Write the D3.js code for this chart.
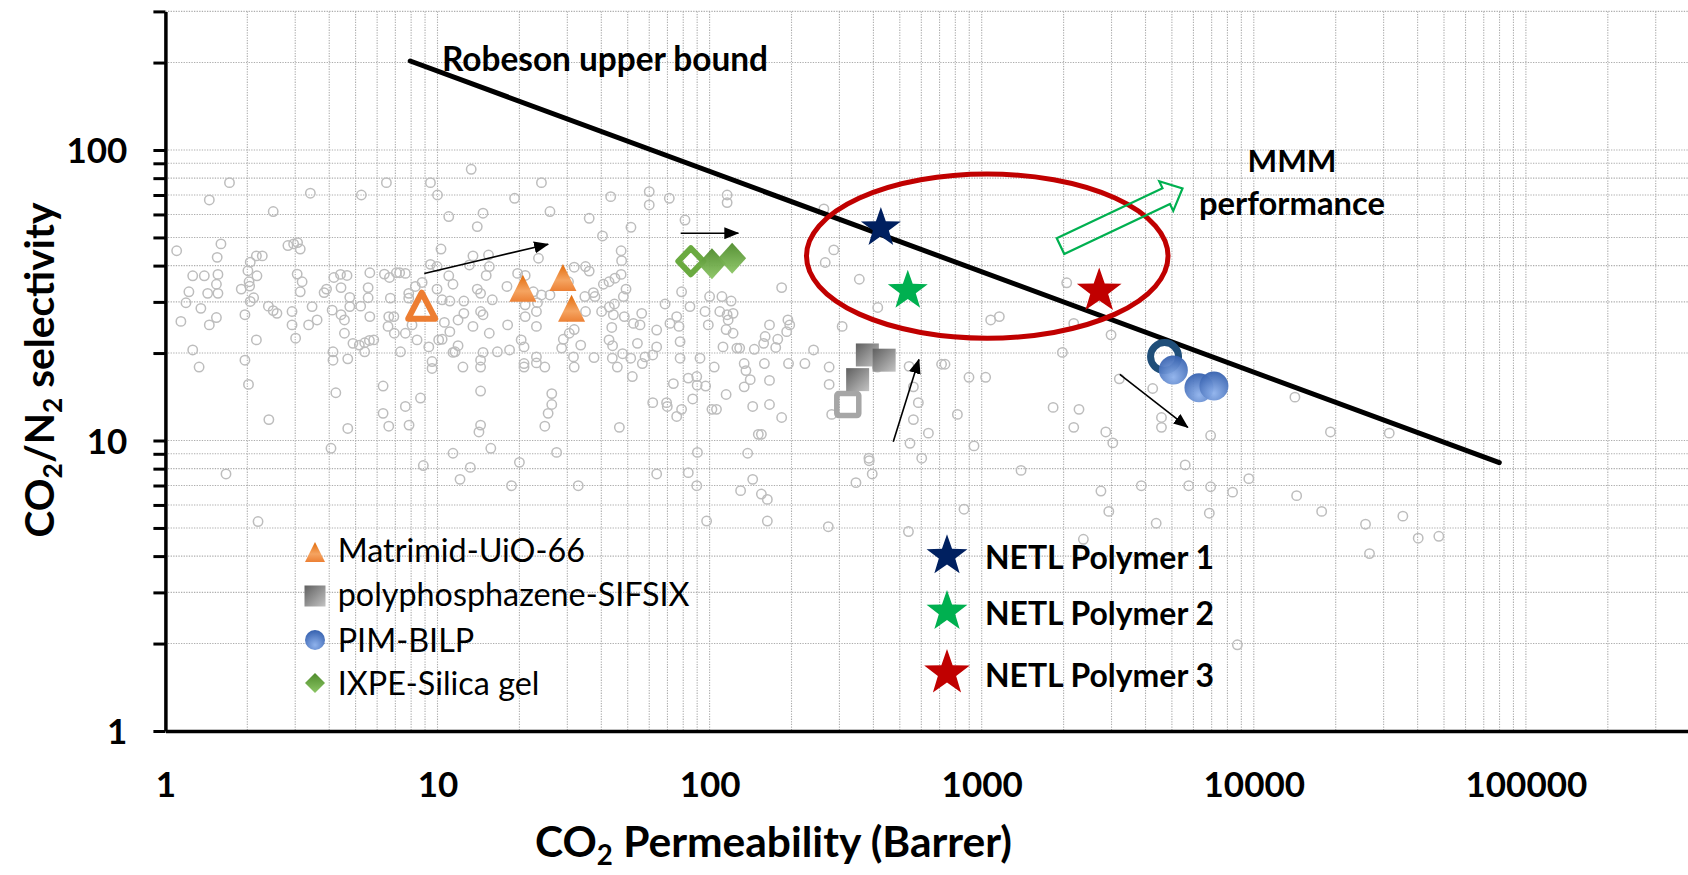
<!DOCTYPE html>
<html><head><meta charset="utf-8">
<script src="https://cdn.jsdelivr.net/npm/d3@7"></script>
<style>
html,body{margin:0;padding:0;background:#fff;}
svg{display:block;font-family:Lato,"Open Sans",sans-serif;}
</style></head><body>
<svg id="chart" width="1688" height="875"></svg>
<script>
// ---------------- data ----------------
const xTicks = [1, 10, 100, 1000, 10000, 100000];
const xTickLabels = ["1", "10", "100", "1000", "10000", "100000"];
const yTicks = [1, 10, 100];
const yTickLabels = ["1", "10", "100"];

// literature polymers (CO2 permeability [Barrer], CO2/N2 selectivity)
const literature = [
[1.72,77.2],[1.45,67.3],[2.49,61.4],[3.41,71.0],[5.25,70.0],[6.49,77.2],[9.42,77.2],[10.0,70.0],[11.0,59.0],
[1.10,45.0],[1.60,47.5],[1.55,42.7],[2.82,46.9],[2.96,47.5],[3.06,48.0],[3.13,45.6],[2.05,41.1],[2.16,43.2],[2.27,43.2],
[10.3,45.6],[9.42,40.4],[9.96,39.7],
[1.26,36.9],[1.39,36.9],[1.56,37.3],[1.54,34.5],[1.56,32.1],[1.43,32.1],[1.22,32.5],[1.19,29.8],[1.35,28.5],[1.14,25.7],[1.45,25.0],[1.54,26.5],
[2.01,38.4],[2.17,36.9],[2.03,35.2],[1.90,33.2],[2.04,34.0],[2.11,31.0],[2.05,30.1],[1.96,27.1],[2.39,29.0],[2.49,28.0],[2.57,27.4],[2.92,27.8],[2.92,25.0],[3.01,22.5],[2.16,22.2],
[3.05,37.4],[3.18,35.2],[3.13,32.5],[3.46,28.9],[3.61,26.0],[3.36,25.0],
[3.83,32.3],[3.91,33.2],[4.16,36.4],[4.40,37.3],[4.65,37.0],[4.42,33.6],[4.76,31.1],[4.76,28.9],[5.22,29.0],[5.56,33.6],[5.56,31.0],[5.64,37.8],[5.64,26.7],[4.10,28.1],[4.42,27.1],[4.55,26.0],[4.55,23.4],[4.89,21.6],[5.16,21.3],[5.40,21.7],[5.40,20.2],[5.62,22.1],[5.83,22.2],
[6.38,37.4],[6.66,36.4],[7.06,37.8],[7.26,37.8],[7.62,37.6],[6.71,30.9],[7.84,32.1],[8.29,33.9],[8.78,35.0],[7.84,30.9],[6.62,26.7],[6.91,26.7],[6.58,24.7],[6.94,23.4],[7.62,23.4],[8.06,25.0],[8.41,22.2],[9.29,21.0],[7.31,20.2],[10.1,22.2],[10.4,22.3],[9.96,33.2],[10.4,30.5],[11.1,30.2],[11.0,36.9],[11.4,34.5],[10.6,25.5],[11.1,23.7],[11.9,26.0],[12.5,30.2],[12.5,27.4],
[4.13,20.2],[4.13,18.9],[4.68,19.1],[11.4,20.1],[11.6,20.2],[11.9,21.2],[12.4,17.9],
[1.26,20.5],[1.33,17.9],[1.96,18.9],[2.02,15.6],[2.40,11.8],[4.23,14.6],[4.06,9.40],[4.68,11.0],[6.31,15.4],[6.31,12.4],[6.62,11.2],[7.62,13.1],[7.86,11.3],[8.66,14.0],[9.55,18.7],[9.55,17.7],[11.4,9.04],
[13.3,85.8],[24.1,77.2],[19.2,68.2],[14.7,60.6],[14.0,54.5],[25.9,61.4],[43.3,69.1],[60.0,71.9],[60.0,64.7],[71.1,68.2],[36.1,58.2],[51.4,54.2],[40.4,50.6],[81.2,57.4],[116,70.0],[116,65.9],
[13.5,43.2],[15.4,43.5],[15.5,39.7],[15.1,37.0],[13.1,40.2],[23.5,42.4],[21.0,37.0],[19.7,37.6],[31.8,39.5],[35.0,39.7],[36.1,38.3],[47.3,45.0],[47.5,41.6],[47.3,37.3],[44.9,36.2],[42.7,35.2],[40.7,34.5],
[14.0,33.2],[14.4,32.1],[18.0,33.9],[15.9,30.5],[14.7,27.1],[14.4,27.8],[13.5,24.7],[14.4,17.9],[14.4,18.9],[14.7,20.1],[16.6,20.2],[18.4,20.5],[15.5,23.4],[18.1,25.0],[20.3,22.2],[20.8,21.0],[20.8,18.4],[20.8,17.9],[23.1,19.4],[23.1,18.5],[24.8,17.9],[23.1,24.7],[23.1,27.8],[21.0,29.3],[21.0,26.7],[23.3,29.8],[24.1,31.7],[25.9,31.7],[22.5,32.5],[30.3,35.2],[34.8,31.3],[37.4,32.3],[37.9,31.3],[40.1,27.8],[35.0,27.8],[31.8,24.1],[30.5,23.4],[29.0,22.3],[28.6,20.8],[33.6,21.3],[31.6,19.4],[31.8,17.9],[37.6,19.3],
[43.7,24.5],[42.7,22.2],[44.0,21.2],[43.9,19.2],[45.8,17.9],[47.9,19.9],[51.3,19.2],[54.3,21.6],[55.5,25.0],[56.3,27.4],[52.5,25.3],[48.6,26.7],[44.7,29.5],[42.8,28.8],[44.3,27.1],[48.2,31.3],[49.3,33.2],[63.9,24.0],[63.9,21.0],[61.8,19.7],[56.6,18.4],[57.9,19.4],[52.0,16.6],
[68.6,29.5],[71.5,25.3],[75.7,26.7],[77.2,24.7],[78.9,32.5],[84.7,28.9],[77.9,21.9],[77.9,19.2],[73.6,15.7],[83.5,16.4],[89.7,16.6],[90.0,15.5],[96.7,15.4],[92.2,19.2],[96.2,27.8],[98.9,25.0],[100,31.3],[111,31.3],[109,27.8],[116,27.1],[120,30.2],[117,26.0],[122,27.4],[122,23.4],[115,24.1],[112,21.0],[126,20.8],[129,20.8],[146,20.6],[134,18.4],[136,17.4],[141,16.2],[134,15.3],[104,17.9],[115,14.4],[102,12.8],[106,12.8],[86.7,13.9],[78.9,12.8],[75.7,12.1],[69.5,13.5],[61.8,13.5],[69.9,13.1],[144,13.1],[151,10.5],[138,9.04],[90.2,9.1],[46.6,11.1],[24.8,11.2],[26.3,14.5],[26.3,13.3],[25.5,12.4],[14.4,14.8],[14.4,11.3],[14.2,10.7],[15.7,9.40],[27.4,9.1],
[263,62.7],[286,45.3],[266,41.0],[355,35.9],[184,33.6],[415,28.7],[307,24.7],[1079,26.0],[1161,26.7],[166,25.0],[194,26.0],[197,25.0],[192,23.7],[178,22.3],[175,20.9],[160,22.8],[158,21.6],[241,20.5],[159,18.4],[195,18.4],[224,18.4],[275,17.9],[166,16.1],[275,15.6],[166,13.3],[184,12.0],[155,10.5],[281,12.3],[414,17.9],[541,18.0],[561,15.3],[585,13.5],[561,11.8],[637,10.6],[545,9.78],[385,8.69],[602,8.69],[712,18.3],[733,18.3],[898,16.5],[1034,16.5],[814,12.3],[937,9.58],
[2053,34.9],[2179,25.3],[2988,23.1],[1979,20.1],[3205,16.3],[4250,15.1],[1830,13.0],[2278,12.8],[2179,11.1],[2858,10.7],[3032,9.81],[4578,12.0],[4578,11.1],[6940,10.4],[14160,14.1],[19130,10.7],[31460,10.6],[1395,7.89],[2743,6.70],[3860,6.99],[5596,8.24],[5764,6.99],[6940,6.93],[8356,6.64],[9588,7.39],[2932,5.70],[4378,5.19],[6863,5.62],[14370,6.46],[17760,5.70],[25740,5.15],[35300,5.49],[40200,4.61],[47860,4.68],[26620,4.08],[2364,4.57],[8702,1.98],
[1.67,7.67],[2.19,5.26],[8.87,8.20],[13.2,8.08],[12.1,7.35],[20.0,8.41],[18.7,6.99],[32.9,6.99],
[63.9,7.67],[83.5,7.75],[89.7,6.99],[144,7.35],[130,6.72],[155,6.54],[163,6.27],[97.5,5.28],[163,5.28],[273,5.05],[345,7.16],[386,8.52],[396,7.67],[538,4.86],[861,5.80]
];

// Robeson 2008 upper bound end points
const robesonP = [7.94, 79830];
const robesonS = [202.5, 8.39];

// MMM series: neat polymer (open marker) and MMMs (filled)
const matrimidNeat = [8.75, 29.1];
const matrimidUiO66 = [[20.6, 33.4], [28.9, 36.4], [31.1, 28.5]];
const sifsixNeat = [322, 13.3];
const sifsixMMM = [[350, 16.2], [380, 19.7], [438, 18.9]];
const pimNeat = [4699, 19.45];
const pimBilp = [[5062, 17.5], [6288, 15.2], [7136, 15.4]];
const ixpeNeat = [85.3, 41.4];
const ixpeSilica = [[102, 40.6], [121, 42.4]];

// NETL polymers
const netlNames = ["NETL Polymer 1", "NETL Polymer 2", "NETL Polymer 3"];
const netlP = [426, 535, 2703];
const netlS = [53.9, 32.8, 32.7];

const legendNames = ["Matrimid-UiO-66", "polyphosphazene-SIFSIX", "PIM-BILP", "IXPE-Silica gel"];

// annotation anchors (data space)
const ellipseP = [227, 4840];
const ellipseS = [22.5, 82.7];
const mmmArrowP = [1948, 5470];
const mmmArrowS = [46.7, 73.8];
const trendArrows = [
  [[8.94, 37.6], [25.5, 47.4]],
  [[78.3, 51.7], [127.5, 51.7]],
  [[473, 9.90], [588, 19.0]],
  [[3217, 16.9], [5720, 11.1]]
];

// ---------------- drawing ----------------
const W = 1688, H = 875;
const svg = d3.select("#chart");
svg.append("rect").attr("width", W).attr("height", H).attr("fill", "#fff");

const DEC_X = 272.1, DEC_Y = 290.5, X0 = 165.4, Y0 = 731;
const x = d3.scaleLog().domain([1, 400000]).range([X0, X0 + DEC_X * Math.log10(400000)]);
const y = d3.scaleLog().domain([1, 300]).range([Y0, Y0 - DEC_Y * Math.log10(300)]);

const defs = svg.append("defs");
function linGrad(id, x1, y1, x2, y2, stops) {
  const g = defs.append("linearGradient").attr("id", id)
    .attr("x1", x1).attr("y1", y1).attr("x2", x2).attr("y2", y2);
  stops.forEach(s => g.append("stop").attr("offset", s[0]).attr("stop-color", s[1]));
}
linGrad("gOrange", 0, 0, 0, 1, [[0, "#E26B0A"], [0.6, "#F5A461"], [1, "#EC8034"]]);
linGrad("gGrey", 0, 0, 1, 1, [[0, "#5F5F5F"], [1, "#C4C4C4"]]);
linGrad("gGreen", 0, 0, 0, 1, [[0, "#4E8B2B"], [1, "#8CC665"]]);
const rg = defs.append("radialGradient").attr("id", "gBlue").attr("cx", 0.5).attr("cy", 0.75).attr("r", 0.75);
rg.append("stop").attr("offset", 0).attr("stop-color", "#8FB2EC");
rg.append("stop").attr("offset", 1).attr("stop-color", "#3560AE");

defs.append("marker").attr("id", "ah").attr("markerUnits", "userSpaceOnUse")
  .attr("markerWidth", 15).attr("markerHeight", 12).attr("refX", 14).attr("refY", 6)
  .attr("orient", "auto")
  .append("path").attr("d", "M0,0L15,6L0,12Z").attr("fill", "#000");

// grid
const gridX = [], gridY = [];
[1, 10, 100, 1000, 10000, 100000].forEach(d => { for (let m = 1; m <= 9; m++) { const v = m * d; if (v > 1 && v <= 300000) gridX.push(v); } });
[1, 10, 100].forEach(d => { for (let m = 1; m <= 9; m++) { const v = m * d; if (v > 1 && v <= 300) gridY.push(v); } });
const grid = svg.append("g").attr("stroke", "#ADADAD").attr("stroke-width", 1.1).attr("stroke-dasharray", "1.3,1.3");
grid.selectAll(".gx").data(gridX).join("line")
  .attr("x1", d => x(d)).attr("x2", d => x(d)).attr("y1", y(300)).attr("y2", y(1));
grid.selectAll(".gy").data(gridY).join("line")
  .attr("x1", x(1)).attr("x2", W).attr("y1", d => y(d)).attr("y2", d => y(d));

// literature circles
svg.append("g").selectAll("circle").data(literature).join("circle")
  .attr("cx", d => x(d[0])).attr("cy", d => y(d[1])).attr("r", 4.7)
  .attr("fill", "none").attr("stroke", "#BDBDBD").attr("stroke-width", 1.5);

// Robeson line
svg.append("path").datum(robesonP.map((p, i) => [p, robesonS[i]]))
  .attr("d", d3.line().x(d => x(d[0])).y(d => y(d[1])))
  .attr("fill", "none").attr("stroke", "#000").attr("stroke-width", 5).attr("stroke-linecap", "round");

// marker shapes
const triPath = (cx, cy, w, h) => `M${cx},${cy - h / 2}L${cx + w / 2},${cy + h / 2}L${cx - w / 2},${cy + h / 2}Z`;
const diaPath = (cx, cy, w, h) => `M${cx},${cy - h / 2}L${cx + w / 2},${cy}L${cx},${cy + h / 2}L${cx - w / 2},${cy}Z`;
const starPath = (cx, cy, R) => {
  let p = "";
  for (let i = 0; i < 10; i++) {
    const a = -Math.PI / 2 + i * Math.PI / 5, r = i % 2 ? R * 0.4 : R;
    p += (i ? "L" : "M") + (cx + r * Math.cos(a)).toFixed(2) + "," + (cy + r * Math.sin(a)).toFixed(2);
  }
  return p + "Z";
};

const mk = svg.append("g");
// Matrimid
mk.append("path").attr("d", triPath(x(matrimidNeat[0]), y(matrimidNeat[1]), 27, 26))
  .attr("fill", "none").attr("stroke", "#ED7D31").attr("stroke-width", 6).attr("stroke-linejoin", "round");
mk.selectAll(".tri").data(matrimidUiO66).join("path")
  .attr("d", d => triPath(x(d[0]), y(d[1]), 27, 27)).attr("fill", "url(#gOrange)");
// IXPE
mk.append("path").attr("d", diaPath(x(ixpeNeat[0]), y(ixpeNeat[1]), 25, 26))
  .attr("fill", "none").attr("stroke", "#6AAA40").attr("stroke-width", 6).attr("stroke-linejoin", "round");
mk.selectAll(".dia").data(ixpeSilica).join("path")
  .attr("d", d => diaPath(x(d[0]), y(d[1]), 28, 31)).attr("fill", "url(#gGreen)").attr("opacity", 0.95);
// SIFSIX squares
mk.append("rect").attr("x", x(sifsixNeat[0]) - 11).attr("y", y(sifsixNeat[1]) - 11)
  .attr("width", 22).attr("height", 22).attr("rx", 2)
  .attr("fill", "none").attr("stroke", "#A6A6A6").attr("stroke-width", 5.5);
mk.selectAll(".sq").data(sifsixMMM).join("rect")
  .attr("x", d => x(d[0]) - 11.5).attr("y", d => y(d[1]) - 11.5).attr("width", 23).attr("height", 23)
  .attr("fill", "url(#gGrey)");
// PIM-BILP
mk.append("circle").attr("cx", x(pimNeat[0])).attr("cy", y(pimNeat[1])).attr("r", 14)
  .attr("fill", "none").attr("stroke", "#1F4E79").attr("stroke-width", 7);
mk.selectAll(".ci").data(pimBilp).join("circle")
  .attr("cx", d => x(d[0])).attr("cy", d => y(d[1])).attr("r", 14.5).attr("fill", "url(#gBlue)").attr("opacity", 0.95);

// ellipse
const ecx = (x(ellipseP[0]) + x(ellipseP[1])) / 2, ecy = (y(ellipseS[0]) + y(ellipseS[1])) / 2;
svg.append("ellipse").attr("cx", ecx).attr("cy", ecy)
  .attr("rx", (x(ellipseP[1]) - x(ellipseP[0])) / 2).attr("ry", (y(ellipseS[0]) - y(ellipseS[1])) / 2)
  .attr("fill", "none").attr("stroke", "#C00000").attr("stroke-width", 5);

// NETL stars
const starColors = ["#002060", "#00B050", "#C00000"];
const starR = [21, 21, 23.5];
svg.append("g").selectAll("path").data(netlP).join("path")
  .attr("d", (d, i) => starPath(x(d), y(netlS[i]), starR[i])).attr("fill", (d, i) => starColors[i]);

// trend arrows
svg.append("g").selectAll("line").data(trendArrows).join("line")
  .attr("x1", d => x(d[0][0])).attr("y1", d => y(d[0][1]))
  .attr("x2", d => x(d[1][0])).attr("y2", d => y(d[1][1]))
  .attr("stroke", "#000").attr("stroke-width", 1.6).attr("marker-end", "url(#ah)");

// MMM block arrow
{
  const tx = x(mmmArrowP[0]), ty = y(mmmArrowS[0]), hx = x(mmmArrowP[1]), hy = y(mmmArrowS[1]);
  const L = Math.hypot(hx - tx, hy - ty), ang = Math.atan2(hy - ty, hx - tx) * 180 / Math.PI;
  const sw = 8.75, hw = 16.4, hl = 18;
  const pts = [[0, -sw], [L - hl, -sw], [L - hl, -hw], [L, 0], [L - hl, hw], [L - hl, sw], [0, sw]];
  svg.append("path").attr("d", "M" + pts.map(p => p.join(",")).join("L") + "Z")
    .attr("transform", `translate(${tx},${ty}) rotate(${ang})`)
    .attr("fill", "none").attr("stroke", "#00B050").attr("stroke-width", 2.2).attr("stroke-linejoin", "miter");
}

// text helpers
function fit(sel, target) {
  const w = sel.node().getComputedTextLength();
  const fs = parseFloat(sel.attr("font-size"));
  sel.attr("font-size", (fs * target / w).toFixed(2));
  return sel;
}

// annotations text
fit(svg.append("text").attr("x", 442).attr("y", 70.5).attr("font-size", 33).attr("font-weight", 700)
  .text("Robeson upper bound"), 326);
fit(svg.append("text").attr("x", 1292).attr("y", 172).attr("text-anchor", "middle").attr("font-size", 32).attr("font-weight", 700)
  .text("MMM"), 89);
fit(svg.append("text").attr("x", 1292).attr("y", 215).attr("text-anchor", "middle").attr("font-size", 32).attr("font-weight", 700)
  .text("performance"), 186);

// legend (left)
const lg = svg.append("g");
const legY = [552, 596, 640, 683];
const legBase = [561.7, 606, 651.7, 695];
lg.append("path").attr("d", triPath(315, legY[0], 20, 20)).attr("fill", "url(#gOrange)");
lg.append("rect").attr("x", 304.5).attr("y", legY[1] - 10.5).attr("width", 21).attr("height", 21).attr("fill", "url(#gGrey)");
lg.append("circle").attr("cx", 315).attr("cy", legY[2]).attr("r", 10).attr("fill", "url(#gBlue)");
lg.append("path").attr("d", diaPath(315, legY[3], 20, 20)).attr("fill", "url(#gGreen)");
const legT = lg.selectAll("text").data(legendNames).join("text")
  .attr("x", 337.7).attr("y", (d, i) => legBase[i]).attr("font-size", 30).attr("fill", "#000").text(d => d);
{
  const n = legT.nodes()[1];
  const w = n.getComputedTextLength();
  legT.attr("font-size", (30 * 352 / w).toFixed(2));
}

// legend (NETL)
const ng = svg.append("g");
const nY = [555.8, 611.5, 673];
const nBase = [569, 625, 687];
ng.selectAll("path").data(netlNames).join("path")
  .attr("d", (d, i) => starPath(947, nY[i], i === 2 ? 24 : 21.5)).attr("fill", (d, i) => starColors[i]);
const nt = ng.selectAll("text").data(netlNames).join("text")
  .attr("x", 985).attr("y", (d, i) => nBase[i]).attr("font-size", 31).attr("font-weight", 700).text(d => d);
{
  const w = nt.nodes()[0].getComputedTextLength();
  nt.attr("font-size", (31 * 229 / w).toFixed(2));
}

// axes
const yAll = [1].concat(gridY);
const gy = svg.append("g").attr("transform", `translate(${x(1)},0)`)
  .call(d3.axisLeft(y).tickValues(yAll).tickSize(12).tickSizeOuter(0).tickPadding(26)
    .tickFormat(d => yTicks.includes(d) ? yTickLabels[yTicks.indexOf(d)] : ""));
gy.select(".domain").attr("stroke", "#000").attr("stroke-width", 3.5);
gy.selectAll(".tick line").attr("stroke", "#000").attr("stroke-width", 3);
gy.selectAll(".tick text").attr("font-family", "Lato").attr("font-size", 35).attr("font-weight", 700)
  .attr("fill", "#000").attr("dy", "0.36em");

const gx = svg.append("g").attr("transform", `translate(0,${y(1)})`)
  .call(d3.axisBottom(x).tickValues(xTicks).tickSize(0).tickSizeOuter(0).tickPadding(10)
    .tickFormat((d, i) => xTickLabels[i]));
gx.select(".domain").attr("stroke", "#000").attr("stroke-width", 3.5);
gx.selectAll(".tick text").attr("font-family", "Lato").attr("font-size", 35).attr("font-weight", 700)
  .attr("fill", "#000").attr("y", 66).attr("dy", 0);

// axis titles
{
  const t = svg.append("text").attr("x", 773.5).attr("y", 857).attr("text-anchor", "middle")
    .attr("font-size", 36).attr("font-weight", 700);
  t.append("tspan").text("CO");
  t.append("tspan").attr("font-size", "0.65em").attr("dy", "0.3em").text("2");
  t.append("tspan").attr("dy", "-0.195em").text(" Permeability (Barrer)");
  const w = t.node().getBBox().width;
  t.attr("font-size", (36 * 477 / w).toFixed(2));
}
{
  const t = svg.append("text").attr("transform", "translate(54,370) rotate(-90)").attr("text-anchor", "middle")
    .attr("font-size", 38).attr("font-weight", 700);
  t.append("tspan").text("CO");
  t.append("tspan").attr("font-size", "0.65em").attr("dy", "0.3em").text("2");
  t.append("tspan").attr("dy", "-0.195em").text("/N");
  t.append("tspan").attr("font-size", "0.65em").attr("dy", "0.3em").text("2");
  t.append("tspan").attr("dy", "-0.195em").text(" selectivity");
  const w = t.node().getBBox().width;
  t.attr("font-size", (38 * 336 / w).toFixed(2));
}
</script>
</body></html>
